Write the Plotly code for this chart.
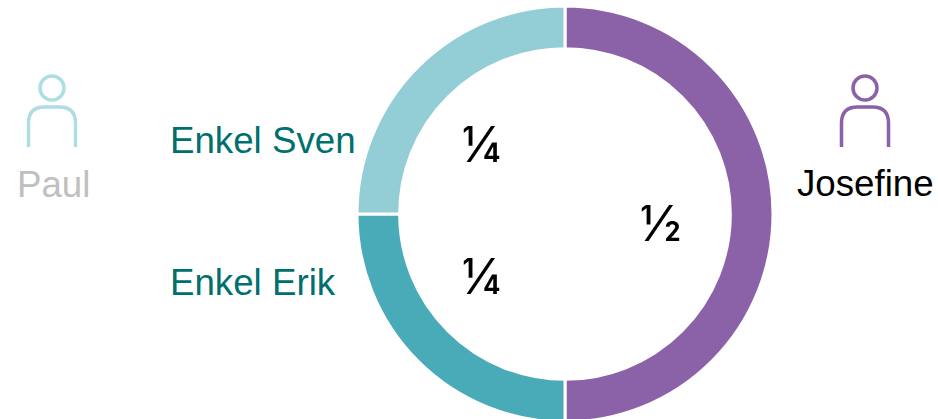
import plotly.graph_objects as go

W, H = 938, 424
names = ["Josefine", "Enkel Erik", "Enkel Sven"]
shares = [2, 1, 1]
slice_colors = ["#8B62A8", "#49AAB8", "#93CDD6"]

def px(x): return x / W
def py(y): return 1 - y / H

fig = go.Figure(go.Pie(
    labels=names, values=shares, hole=0.795, sort=False, direction="clockwise",
    rotation=0, textinfo="none", hoverinfo="label+percent",
    marker=dict(colors=slice_colors, line=dict(color="white", width=3)),
    domain=dict(x=[px(357), px(773)], y=[py(422), py(6)]), showlegend=False,
))

FONT = "Liberation Sans, Arial, sans-serif"
FRACTION_FONT = "Inter, Liberation Sans, sans-serif"
labels = [
    ("Enkel Sven", 170, 140, "#00706F", 36.7, "left", FONT),
    ("Enkel Erik", 170, 282, "#00706F", 36.7, "left", FONT),
    ("Paul", 53, 184, "#BFBFBF", 36.7, "center", FONT),
    ("Josefine", 865, 183, "#000000", 36.7, "center", FONT),
    ("¼", 481, 144.5, "#000000", 49, "center", FRACTION_FONT),
    ("¼", 481, 276.5, "#000000", 49, "center", FRACTION_FONT),
    ("½", 661, 223.5, "#000000", 49, "center", FRACTION_FONT),
]
for text, x, y, color, size, anchor, family in labels:
    fig.add_annotation(x=px(x), y=py(y), xref="paper", yref="paper", text=text,
                       showarrow=False, xanchor=anchor, yanchor="middle",
                       font=dict(family=family, size=size, color=color),
                       borderpad=0, borderwidth=0)

def person(cx, color):
    fig.add_shape(type="circle", xref="paper", yref="paper",
                  x0=px(cx - 12), x1=px(cx + 12), y0=py(100), y1=py(76),
                  line=dict(color=color, width=3.5), fillcolor="rgba(0,0,0,0)")
    l, r = cx - 23.5, cx + 23.5
    top, bottom, c = 107, 147, 16
    pts = [f"M {px(l)} {py(bottom)}", f"L {px(l)} {py(top + c)}",
           f"Q {px(l)} {py(top)} {px(l + c)} {py(top)}",
           f"L {px(r - c)} {py(top)}",
           f"Q {px(r)} {py(top)} {px(r)} {py(top + c)}",
           f"L {px(r)} {py(bottom)}"]
    fig.add_shape(type="path", xref="paper", yref="paper", path=" ".join(pts),
                  line=dict(color=color, width=3.5))

person(52, "#AEDDE3")
person(865, "#8B62A8")

fig.update_layout(width=W, height=H, margin=dict(l=0, r=0, t=0, b=0),
                  paper_bgcolor="white", plot_bgcolor="white")
fig.write_html("out.html", config={"displayModeBar": False},
               post_script="document.body.style.margin='0';document.documentElement.style.overflow='hidden';document.body.style.overflow='hidden';")
